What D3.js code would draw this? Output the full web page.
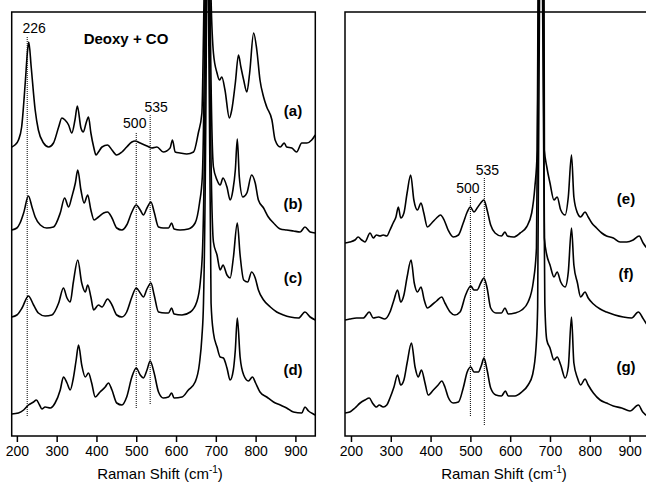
<!DOCTYPE html>
<html>
<head>
<meta charset="utf-8">
<script src="https://cdn.jsdelivr.net/npm/d3@7"></script>
<style>
  body { margin: 0; background: #fff; }
  svg { display: block; }
</style>
</head>
<body>
<div id="chart"></div>
<script>
// Raman spectra: [shift (cm-1), intensity above the trace baseline]
const traceA = [[187,8],[195,10],[204,15],[212,28],[221,72],[227,105],[230,113],[236,88],[246,45],[254,25],[267,12],[280,8],[292,12],[305,28],[313,37],[321,35],[330,30],[338,22],[346,35],[352,49],[361,27],[367,23],[374,32],[380,38],[386,22],[393,8],[399,0],[405,3],[414,8],[428,10],[439,5],[451,0],[464,3],[476,8],[489,13],[497,14],[510,12],[527,9],[539,7],[552,8],[568,3],[585,7],[591,15],[598,3],[610,2],[627,1],[644,3],[656,22],[665,42],[669,122],[671,175],[679,555],[687,175],[694,102],[703,82],[709,75],[715,78],[723,65],[734,37],[740,45],[749,72],[757,100],[763,88],[770,75],[778,63],[785,82],[795,122],[803,105],[811,75],[820,58],[828,48],[841,35],[849,15],[862,8],[872,12],[878,8],[891,7],[903,3],[916,12],[929,12],[941,15],[950,20]];
const traceB = [[187,3],[200,5],[208,10],[217,20],[229,37],[238,26],[246,16],[259,8],[275,5],[292,6],[309,20],[320,35],[330,26],[338,36],[347,50],[353,63],[361,43],[369,30],[378,38],[386,23],[394,13],[405,16],[418,20],[428,21],[439,15],[451,5],[464,3],[476,8],[489,21],[500,28],[510,23],[518,18],[527,25],[537,31],[545,21],[556,6],[568,5],[581,5],[589,10],[595,4],[610,3],[631,4],[648,10],[659,30],[666,56],[673,253],[679,633],[685,253],[694,66],[703,53],[711,48],[718,55],[728,46],[736,33],[743,43],[749,63],[754,94],[759,56],[768,36],[778,40],[790,58],[799,50],[807,33],[820,25],[832,16],[845,10],[862,4],[878,3],[895,2],[912,1],[924,6],[937,1],[950,0]];
const traceC = [[187,3],[200,5],[213,12],[229,24],[242,15],[254,7],[271,4],[288,5],[305,17],[317,32],[326,22],[334,18],[342,38],[353,60],[363,37],[372,28],[378,35],[386,23],[393,10],[405,15],[414,13],[428,21],[439,15],[451,5],[464,3],[476,8],[489,23],[500,32],[510,27],[518,23],[527,31],[537,37],[545,25],[556,8],[573,7],[581,7],[589,12],[595,6],[615,5],[636,8],[652,18],[661,38],[667,75],[675,340],[679,720],[683,340],[694,78],[703,65],[711,50],[718,55],[728,45],[736,42],[744,62],[754,97],[761,65],[770,40],[780,38],[790,48],[799,42],[807,30],[820,20],[837,13],[853,8],[870,5],[887,3],[908,2],[924,8],[937,3],[950,0]];
const traceD = [[187,2],[204,3],[217,6],[229,11],[242,14],[249,16],[257,11],[263,7],[271,9],[284,8],[296,13],[309,26],[317,39],[326,33],[334,26],[342,38],[349,56],[355,71],[363,51],[372,39],[380,43],[388,33],[397,19],[409,24],[422,29],[430,33],[439,26],[451,13],[464,11],[476,19],[489,39],[500,48],[510,41],[518,38],[527,46],[535,55],[545,43],[556,24],[568,18],[581,19],[589,23],[595,18],[615,19],[631,26],[648,34],[659,53],[665,79],[669,113],[677,436],[679,816],[681,436],[688,113],[694,83],[703,69],[711,59],[719,58],[728,48],[736,36],[744,46],[749,66],[754,98],[761,59],[770,41],[782,35],[792,39],[800,33],[811,24],[828,19],[845,14],[862,11],[878,8],[895,4],[916,3],[924,9],[933,5],[945,2],[950,1]];
const traceE = [[185,4],[197,5],[210,7],[218,10],[227,7],[235,5],[248,14],[256,9],[264,12],[273,11],[281,12],[290,11],[298,17],[306,24],[313,30],[319,40],[325,29],[333,34],[341,54],[350,72],[358,47],[367,37],[376,44],[383,34],[392,20],[403,24],[415,29],[425,32],[434,27],[444,17],[457,10],[470,12],[482,24],[492,35],[500,40],[509,35],[517,39],[526,44],[534,47],[542,37],[551,22],[562,14],[578,11],[587,15],[593,11],[608,10],[625,14],[641,20],[654,34],[662,60],[668,97],[670,267],[677,647],[685,267],[686,97],[692,80],[700,64],[710,47],[718,50],[727,37],[738,32],[746,50],[754,92],[760,50],[769,34],[777,30],[788,35],[796,30],[805,24],[817,19],[830,14],[842,11],[859,9],[876,5],[893,5],[909,7],[924,11],[934,4],[941,0],[950,-3]];
const traceF = [[185,4],[197,5],[214,6],[231,6],[246,12],[256,6],[269,7],[285,5],[298,12],[308,24],[317,34],[325,22],[333,29],[341,47],[351,64],[359,41],[367,32],[376,37],[384,24],[392,16],[403,19],[415,23],[428,27],[436,21],[449,12],[461,9],[474,12],[488,29],[501,38],[509,34],[517,34],[526,41],[534,46],[542,36],[551,16],[564,11],[578,11],[587,16],[595,10],[612,11],[629,14],[645,22],[658,42],[666,76],[672,344],[677,724],[683,344],[686,86],[692,69],[700,59],[710,47],[718,52],[727,42],[738,37],[746,52],[754,96],[760,59],[769,41],[777,27],[788,32],[796,26],[809,20],[826,15],[842,12],[863,9],[884,7],[905,6],[922,12],[933,6],[941,1],[950,-3]];
const traceG = [[185,3],[197,4],[210,8],[223,13],[235,16],[246,18],[254,13],[264,9],[271,11],[281,9],[290,11],[298,18],[308,29],[317,41],[325,31],[333,36],[341,53],[352,73],[361,49],[369,39],[377,46],[386,33],[394,21],[407,26],[419,31],[428,35],[436,29],[444,19],[457,13],[470,14],[482,28],[492,44],[501,49],[509,44],[520,44],[528,51],[534,58],[542,46],[551,28],[564,21],[578,20],[588,25],[595,20],[612,20],[629,24],[645,31],[656,41],[665,69],[669,109],[674,436],[677,816],[681,436],[687,113],[692,76],[700,68],[710,56],[718,59],[727,51],[738,38],[746,49],[754,99],[760,53],[769,38],[777,31],[788,37],[796,31],[809,23],[826,16],[842,13],[859,10],[880,8],[901,5],[922,11],[933,4],[941,1],[950,-2]];

// stacking offsets and trace labels
const leftTraces = [traceA, traceB, traceC, traceD];
const leftOffsets = [281, 203, 116, 20];
const leftLabels = ["(a)", "(b)", "(c)", "(d)"];
const leftLabelHeights = [39, 24, 37, 41];

const rightTraces = [traceE, traceF, traceG];
const rightOffsets = [189, 112, 20];
const rightLabels = ["(e)", "(f)", "(g)"];
const rightLabelHeights = [43, 45, 44];

// dotted marker lines: shift, top, bottom, label height, label nudge
const leftMarkers = [[226, 399, 20, 403, 7], [500, 303, 27, 308, -1.5], [535, 321, 31, 324, 6]];
const rightMarkers = [[500, 239, 20, 243, -2.5], [535, 258, 10, 261, 3]];

const ticks = [200, 300, 400, 500, 600, 700, 800, 900];

const W = 646, H = 483;
const font = "'Liberation Sans', Arial, Helvetica, sans-serif";

const svg = d3.select("#chart")
  .append("svg")
  .attr("width", W)
  .attr("height", H);

// shared vertical scale (arbitrary units)
const y = d3.scaleLinear().domain([0, 424]).range([436, 12]);

function drawPanel(id, domain, range, traces, offsets, labels, labelHeights, markers, labelX, titleX, title) {
  const x = d3.scaleLinear().domain(domain).range(range);

  svg.append("clipPath").attr("id", id)
    .append("rect")
    .attr("x", range[0]).attr("y", 0)
    .attr("width", range[1] - range[0]).attr("height", H);

  const g = svg.append("g");

  // dotted guide lines
  markers.forEach(m => {
    g.append("line")
      .attr("x1", x(m[0])).attr("x2", x(m[0]))
      .attr("y1", y(m[1])).attr("y2", y(m[2]))
      .attr("stroke", "#000")
      .attr("stroke-width", 1)
      .attr("stroke-dasharray", "1,1");
    g.append("text")
      .attr("x", x(m[0]) + m[4])
      .attr("y", y(m[3]))
      .attr("text-anchor", "middle")
      .style("font-family", font)
      .style("font-size", "14px")
      .text(m[0]);
  });

  // spectra
  const line = d3.line()
    .curve(d3.curveMonotoneX)
    .x(d => x(d[0]));
  traces.forEach((t, i) => {
    g.append("path")
      .datum(t)
      .attr("clip-path", `url(#${id})`)
      .attr("d", line.y(d => y(d[1] + offsets[i])))
      .attr("fill", "none")
      .attr("stroke", "#000")
      .attr("stroke-width", 1.6)
      .attr("stroke-linejoin", "round");
    g.append("text")
      .attr("x", labelX)
      .attr("y", y(offsets[i] + labelHeights[i]))
      .attr("text-anchor", "middle")
      .style("font-family", font)
      .style("font-size", "15px")
      .style("font-weight", "bold")
      .text(labels[i]);
  });

  // frame
  g.append("rect")
    .attr("x", range[0]).attr("y", 12)
    .attr("width", range[1] - range[0]).attr("height", 424)
    .attr("fill", "none")
    .attr("stroke", "#000")
    .attr("stroke-width", 1.5);

  // bottom axis
  const axis = g.append("g")
    .attr("transform", "translate(0,436)")
    .call(d3.axisBottom(x).tickValues(ticks).tickSize(6).tickPadding(4).tickSizeOuter(0));
  axis.select(".domain").remove();
  axis.selectAll(".tick line").attr("stroke-width", 1.5);
  axis.selectAll(".tick text")
    .style("font-family", font)
    .style("font-size", "14px")
    .attr("fill", "#000");

  const t = g.append("text")
    .attr("x", titleX)
    .attr("y", 479)
    .attr("text-anchor", "middle")
    .style("font-family", font)
    .style("font-size", "15px");
  t.append("tspan").text(title);
  t.append("tspan").attr("dy", -6).style("font-size", "10px").text("-1");
  t.append("tspan").attr("dy", 6).text(")");

  return x;
}

drawPanel("clipL", [187, 950], [11.7, 315.3], leftTraces, leftOffsets, leftLabels, leftLabelHeights,
  leftMarkers, 293, 160, "Raman Shift (cm");
drawPanel("clipR", [185, 950], [345, 649.5], rightTraces, rightOffsets, rightLabels, rightLabelHeights,
  rightMarkers, 626, 504, "Raman Shift (cm");

svg.append("text")
  .attr("x", 126)
  .attr("y", 44)
  .attr("text-anchor", "middle")
  .style("font-family", font)
  .style("font-size", "15px")
  .style("font-weight", "bold")
  .text("Deoxy + CO");
</script>
</body>
</html>
